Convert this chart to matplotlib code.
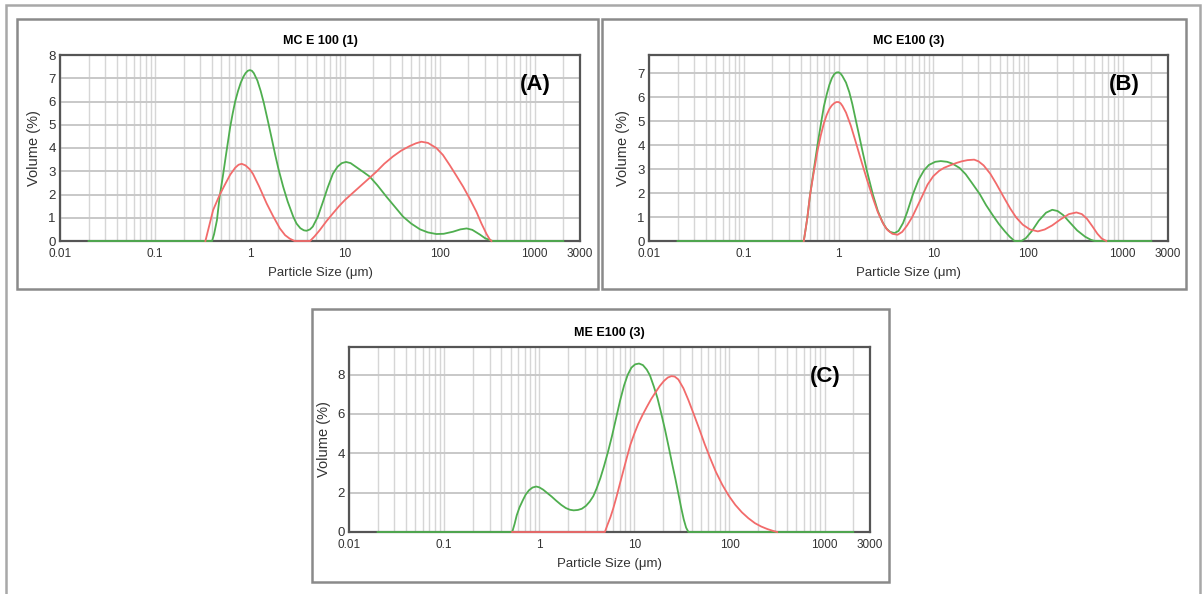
import matplotlib
matplotlib.use('Agg')
import matplotlib.pyplot as plt
import matplotlib.patches as patches
from matplotlib.ticker import FixedLocator, LogLocator, NullFormatter

plt.rcParams['font.family'] = ['Liberation Sans', 'DejaVu Sans']

# ---------------- data ----------------
x_ticks = [0.01, 0.1, 1, 10, 100, 1000, 3000]
x_tick_labels = ['0.01', '0.1', '1', '10', '100', '1000', '3000']

# Panel A : MC E 100 (1)
a_green_x = [0.02, 0.40, 0.42, 0.45, 0.48, 0.52, 0.56, 0.62, 0.66, 0.7, 0.75, 0.8, 0.85,
             0.9, 0.95, 1.0, 1.05, 1.1, 1.2, 1.3, 1.4, 1.55, 1.7, 1.85, 2.0, 2.24, 2.5,
             2.86, 3.1, 3.4, 3.7, 3.95, 4.3, 4.6, 5.2, 5.9, 6.6, 7.5, 8.4, 9.3, 10.3,
             11.5, 13.3, 15.5, 18.3, 22, 27.5, 34, 41, 50, 62, 75, 92, 110, 138, 165,
             192, 220, 264, 300, 347, 365, 2000]
a_green_y = [0, 0, 0.3, 0.9, 1.9, 2.8, 3.7, 4.9, 5.5, 6.0, 6.45, 6.8, 7.05,
             7.22, 7.32, 7.35, 7.32, 7.22, 6.9, 6.45, 5.95, 5.15, 4.4, 3.7, 3.1, 2.34, 1.7,
             1.05, 0.75, 0.55, 0.46, 0.44, 0.5, 0.62, 1.05, 1.7, 2.3, 2.9, 3.2, 3.35, 3.4,
             3.35, 3.17, 2.98, 2.77, 2.4, 1.9, 1.45, 1.05, 0.75, 0.5, 0.37, 0.3, 0.31, 0.4, 0.5,
             0.54, 0.48, 0.28, 0.12, 0.02, 0, 0]
a_red_x = [0.34, 0.37, 0.41, 0.48, 0.55, 0.62, 0.7, 0.76, 0.82, 0.9, 1.0, 1.08, 1.25,
           1.5, 1.75, 2.07, 2.35, 2.63, 2.96, 4.3, 4.8, 5.45, 6.4, 7.5, 8.7, 10, 12,
           14.4, 17.5, 21.5, 26, 32, 39, 48, 56, 64, 75, 92, 108, 127, 150, 176, 205,
           243, 275, 311, 335, 350]
a_red_y = [0, 0.6, 1.33, 1.98, 2.45, 2.85, 3.15, 3.28, 3.32, 3.25, 3.08, 2.88, 2.35,
           1.62, 1.08, 0.54, 0.25, 0.1, 0, 0, 0.2, 0.47, 0.85, 1.19, 1.5, 1.76, 2.05,
           2.34, 2.65, 2.98, 3.32, 3.63, 3.88, 4.08, 4.2, 4.27, 4.22, 4.0, 3.7, 3.27, 2.8, 2.34, 1.85,
           1.26, 0.75, 0.3, 0.08, 0]

# Panel B : MC E100 (3)
b_green_x = [0.02, 0.43, 0.45, 0.47, 0.5, 0.55, 0.6, 0.65, 0.7, 0.75, 0.8, 0.85, 0.9,
             0.95, 1.0, 1.05, 1.1, 1.2, 1.3, 1.4, 1.5, 1.65, 1.8, 2.0, 2.3, 2.6, 2.9,
             3.2, 3.5, 3.9, 4.3, 4.8, 5.3, 6.1, 7, 8, 9, 10.5, 12, 14, 16, 19, 22, 26,
             31, 36, 42, 49, 57, 64, 72, 85, 95, 110, 130, 155, 180, 205, 235, 275, 330,
             400, 460, 505, 2000]
b_green_y = [0, 0, 0.5, 1.0, 1.9, 3.0, 4.0, 4.85, 5.6, 6.1, 6.5, 6.78, 6.95,
             7.02, 7.03, 6.98, 6.87, 6.6, 6.2, 5.7, 5.15, 4.4, 3.7, 2.9, 1.95, 1.25, 0.8,
             0.52, 0.38, 0.33, 0.42, 0.75, 1.2, 1.95, 2.55, 2.95, 3.17, 3.3, 3.33, 3.3, 3.22, 3.04, 2.78, 2.38,
             1.95, 1.5, 1.1, 0.72, 0.4, 0.18, 0, 0, 0.12, 0.42, 0.85, 1.18, 1.3, 1.25, 1.08, 0.78, 0.44,
             0.18, 0.05, 0, 0]
b_red_x = [0.43, 0.45, 0.47, 0.5, 0.55, 0.6, 0.65, 0.7, 0.75, 0.8, 0.85, 0.9, 0.95, 1.0,
           1.05, 1.1, 1.2, 1.35, 1.5, 1.75, 2.0, 2.3, 2.6, 3.0, 3.3, 3.7, 4.2, 4.7, 5.3,
           6, 6.8, 7.7, 8.7, 10, 11.5, 13, 15, 17.5, 20, 23, 27, 30, 34, 40, 46, 55, 65,
           75, 88, 105, 127, 150, 180, 220, 270, 324, 370, 420, 480, 540, 600, 670]
b_red_y = [0, 0.5, 1.0, 1.9, 2.9, 3.75, 4.4, 4.9, 5.25, 5.5, 5.65, 5.74, 5.79, 5.79,
           5.74, 5.63, 5.35, 4.8, 4.2, 3.3, 2.55, 1.8, 1.2, 0.68, 0.45, 0.3, 0.26, 0.38, 0.65,
           1.0, 1.45, 1.9, 2.35, 2.7, 2.92, 3.05, 3.15, 3.25, 3.32, 3.37, 3.39, 3.32, 3.15, 2.8, 2.4, 1.85, 1.35,
           0.98, 0.68, 0.48, 0.4, 0.48, 0.65, 0.9, 1.12, 1.19, 1.12, 0.92, 0.6, 0.3, 0.1, 0]

# Panel C : ME E100 (3)
c_green_x = [0.02, 0.52, 0.55, 0.58, 0.62, 0.67, 0.72, 0.78, 0.85, 0.93, 1.0, 1.1, 1.2,
             1.35, 1.5, 1.7, 1.9, 2.1, 2.3, 2.55, 2.8, 3.1, 3.4, 3.7, 4.0, 4.4, 4.8, 5.3,
             5.8, 6.4, 7.1, 7.8, 8.5, 9.3, 10.2, 11.2, 12.3, 13.5, 14.6, 16, 17.5, 19, 21,
             23, 25, 27, 29, 31, 33, 35, 37, 2000]
c_green_y = [0, 0, 0.4, 0.85, 1.25, 1.6, 1.9, 2.12, 2.26, 2.31, 2.27, 2.15, 2.0,
             1.8, 1.6, 1.38, 1.22, 1.13, 1.1, 1.12, 1.18, 1.33, 1.55, 1.82, 2.2, 2.75, 3.35, 4.1,
             4.85, 5.75, 6.7, 7.45, 7.98, 8.35, 8.52, 8.56, 8.48, 8.25, 7.95, 7.4, 6.8, 6.1, 5.2,
             4.3, 3.45, 2.7, 1.95, 1.25, 0.65, 0.22, 0, 0]
c_red_x = [0.52, 4.9, 5.2, 5.6, 6.0, 6.5, 7, 7.6, 8.3, 9.1, 10, 11, 12.2, 13.5, 15, 16.7,
           18.5, 20.5, 22.5, 24.5, 26.5, 29, 32.8, 37, 42, 48, 55, 62.7, 72, 84, 98, 115,
           135, 158, 185, 215, 250, 285, 317]
c_red_y = [0, 0, 0.35, 0.75, 1.2, 1.8, 2.4, 3.05, 3.75, 4.45, 5.0, 5.5, 5.95, 6.35, 6.75, 7.1,
           7.42, 7.68, 7.85, 7.92, 7.9, 7.75, 7.3, 6.7, 6.0, 5.25, 4.45, 3.75, 3.05, 2.4, 1.85, 1.38,
           1.0, 0.7, 0.45, 0.28, 0.15, 0.06, 0]

GREEN = '#4fae4f'
RED = '#f26b6b'
W, H = 1202, 594


def px_rect(x0, y0, x1, y1):
    # pixel box (top-left origin) -> figure fraction [l, b, w, h]
    return [x0 / W, 1 - y1 / H, (x1 - x0) / W, (y1 - y0) / H]


def draw_panel(fig, box, title, tag, gx, gy, rx, ry, ymax, yticks):
    ax = fig.add_axes(px_rect(*box))
    ax.set_xscale('log')
    ax.set_xlim(0.01, 3000)
    ax.set_ylim(0, ymax)
    ax.xaxis.set_major_locator(FixedLocator(x_ticks))
    ax.set_xticklabels(x_tick_labels)
    ax.xaxis.set_minor_locator(LogLocator(base=10, subs=range(2, 10)))
    ax.xaxis.set_minor_formatter(NullFormatter())
    ax.set_yticks(yticks)
    ax.grid(True, which='both', axis='x', color='#d6d6d6', lw=1.0)
    ax.grid(True, which='major', axis='y', color='#c8c8c8', lw=1.4)
    ax.set_axisbelow(True)
    ax.tick_params(which='both', length=0, colors='#333333')
    ax.tick_params(axis='x', labelsize=8.5, pad=5)
    ax.tick_params(axis='y', labelsize=9.5, pad=3)
    for s in ax.spines.values():
        s.set_color('#555555')
        s.set_linewidth(1.6)

    # curves sit on top of the spines so the zero baseline stays visible
    ax.plot(gx, gy, color=GREEN, lw=1.3, zorder=3, clip_on=False)
    ax.plot(rx, ry, color=RED, lw=1.3, zorder=3.1, clip_on=False)

    ax.set_title(title, fontsize=9, fontweight='bold', pad=8)
    ax.set_xlabel('Particle Size (\u03bcm)', fontsize=9.5, color='#333333', labelpad=5)
    ax.set_ylabel('Volume (%)', fontsize=10.5, color='#333333', labelpad=5)
    ax.text(0.915, 0.84, tag, transform=ax.transAxes, fontsize=16, fontweight='bold',
            ha='center', va='center')
    return ax


fig = plt.figure(figsize=(W / 100, H / 100), dpi=100)

# outer frame and panel frames
frames = [((6, 5, 1200, 620), '#a8a8a8'),
          ((17, 19, 598, 289), '#8a8a8a'),
          ((602, 19, 1186, 289), '#8a8a8a'),
          ((312, 309, 889, 582), '#8a8a8a')]
for (x0, y0, x1, y1), col in frames:
    l, b, w, h = px_rect(x0, y0, x1, y1)
    fig.add_artist(patches.Rectangle((l, b), w, h, transform=fig.transFigure,
                                     fill=False, edgecolor=col, lw=1.8))

draw_panel(fig, (60, 55, 580, 241), 'MC E 100 (1)', '(A)',
           a_green_x, a_green_y, a_red_x, a_red_y, 8, range(0, 9))
draw_panel(fig, (649, 55, 1168, 241), 'MC E100 (3)', '(B)',
           b_green_x, b_green_y, b_red_x, b_red_y, 7.75, range(0, 8))
draw_panel(fig, (349, 347, 870, 532), 'ME E100 (3)', '(C)',
           c_green_x, c_green_y, c_red_x, c_red_y, 9.4, [0, 2, 4, 6, 8])

fig.savefig('out.png', dpi=100)
